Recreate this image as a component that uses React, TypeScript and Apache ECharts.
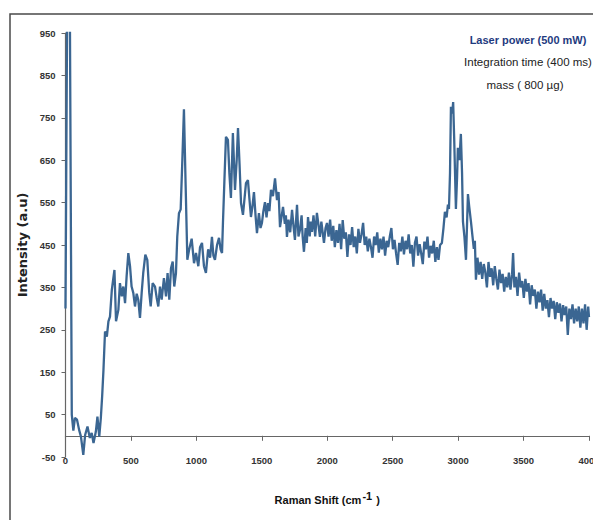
import { useEffect, useRef } from "react";
import * as echarts from "echarts";

// Raman spectrum, [shift (cm-1), intensity (a.u.)], split by region
const lowShiftRegion: [number, number][] = [
  [0, 300], [16, 1200], [32, 1100], [48, 50], [60, 12], [72, 42], [88, 38], [104, 14],
  [118, -2], [136, -45], [150, 2], [168, 22], [186, -5], [200, 7], [214, -17], [232, 10],
  [244, 45], [258, -2], [270, 42], [280, 93], [290, 155], [302, 246], [316, 234], [328, 270],
  [340, 281], [354, 344], [364, 368], [374, 391], [386, 270], [404, 297], [416, 360], [430, 329],
  [442, 352], [455, 313], [467, 376], [480, 431], [493, 400], [505, 352], [518, 337], [531, 305],
  [544, 335], [556, 321], [569, 278], [582, 337], [594, 384], [610, 427], [625, 415], [640, 337],
  [651, 305], [666, 360], [684, 352], [697, 325], [709, 305], [722, 352], [735, 321], [752, 372],
  [768, 329], [780, 384], [793, 321], [806, 395], [819, 411], [831, 352], [844, 384], [854, 470],
  [867, 525], [880, 534], [893, 652], [905, 770], [918, 590], [931, 415], [944, 438], [964, 465],
  [982, 407], [997, 431],
];

const midShiftRegion: [number, number][] = [
  [1015, 400], [1028, 445], [1043, 455], [1058, 400], [1073, 384], [1090, 440], [1105, 420],
  [1119, 469], [1130, 425], [1142, 415], [1158, 450], [1173, 467], [1185, 440], [1196, 431],
  [1203, 502], [1214, 600], [1226, 705], [1241, 698], [1252, 620], [1264, 561], [1279, 714],
  [1295, 580], [1308, 650], [1318, 726], [1330, 640], [1341, 549], [1356, 521], [1379, 596],
  [1394, 603], [1405, 560], [1417, 516], [1428, 540], [1440, 575], [1452, 520], [1463, 478],
  [1478, 525], [1490, 490], [1501, 502], [1512, 530], [1524, 551], [1536, 515], [1547, 549],
  [1558, 530], [1570, 580], [1585, 565], [1601, 607], [1616, 556], [1628, 575], [1639, 492],
  [1650, 515], [1662, 540], [1676, 500], [1684, 520], [1692, 469], [1704, 510], [1717, 480],
  [1731, 533], [1742, 495], [1753, 462], [1769, 545], [1780, 470], [1792, 486], [1804, 520],
  [1812, 470], [1822, 434], [1835, 490], [1844, 455], [1853, 516], [1866, 470], [1874, 505],
  [1883, 481], [1895, 520], [1908, 470], [1921, 526], [1932, 500], [1944, 469], [1955, 505],
  [1965, 480], [1975, 455], [1987, 490], [1998, 502],
];

const plateauRegion: [number, number][] = [
  [2010, 470], [2022, 510], [2034, 460], [2046, 495], [2058, 445], [2070, 485], [2082, 455],
  [2094, 500], [2106, 440], [2118, 509], [2130, 465], [2142, 480], [2154, 422], [2166, 475],
  [2178, 450], [2190, 492], [2202, 445], [2214, 470], [2226, 430], [2238, 488], [2250, 455],
  [2262, 475], [2274, 502], [2286, 450], [2298, 470], [2310, 435], [2322, 465], [2334, 445],
  [2346, 420], [2358, 470], [2370, 450], [2382, 480], [2394, 432], [2406, 465], [2418, 440],
  [2430, 470], [2442, 425], [2454, 460], [2466, 445], [2478, 470], [2490, 490], [2502, 440],
  [2514, 462], [2526, 430], [2538, 403], [2550, 455], [2562, 435], [2574, 470], [2586, 428],
  [2598, 460], [2610, 440], [2622, 475], [2634, 430], [2646, 450], [2658, 399], [2670, 455],
  [2682, 470], [2694, 425], [2706, 452], [2718, 430], [2730, 405], [2742, 458], [2754, 440],
  [2766, 470], [2778, 420], [2790, 448], [2802, 430], [2814, 460], [2826, 410], [2838, 445],
  [2850, 415], [2862, 450], [2876, 455],
];

const chRegion: [number, number][] = [
  [2888, 490], [2899, 528], [2912, 515], [2922, 545], [2930, 535], [2938, 620], [2945, 776],
  [2955, 760], [2962, 787], [2970, 700], [2983, 535], [2992, 610], [2998, 679], [3010, 650],
  [3021, 712], [3030, 620], [3037, 505], [3048, 470], [3060, 415], [3075, 570], [3085, 540],
  [3098, 505], [3110, 470], [3120, 441], [3128, 460], [3136, 368],
];

const tailRegion: [number, number][] = [
  [3148, 420], [3160, 380], [3172, 410], [3184, 370], [3196, 405], [3208, 385], [3220, 350],
  [3232, 410], [3244, 375], [3256, 395], [3268, 355], [3280, 400], [3292, 370], [3304, 345],
  [3316, 392], [3328, 360], [3340, 382], [3352, 340], [3364, 375], [3376, 350], [3388, 385],
  [3400, 345], [3412, 380], [3420, 431], [3430, 350], [3442, 375], [3454, 330], [3466, 385],
  [3478, 350], [3490, 365], [3502, 325], [3514, 370], [3526, 340], [3538, 360], [3550, 310],
  [3562, 355], [3574, 330], [3586, 345], [3598, 300], [3610, 340], [3622, 315], [3634, 345],
  [3646, 295], [3658, 335], [3670, 300], [3682, 320], [3694, 280], [3706, 325], [3718, 300],
  [3730, 318], [3742, 275], [3754, 315], [3766, 290], [3778, 312], [3790, 270], [3802, 308],
  [3814, 285], [3826, 305], [3838, 238], [3850, 300], [3862, 275], [3874, 310], [3886, 265],
  [3898, 300], [3910, 270], [3922, 305], [3934, 255], [3946, 300], [3958, 265], [3970, 310],
  [3982, 250], [3994, 305], [4000, 280],
];

const spectrum = [
  ...lowShiftRegion,
  ...midShiftRegion,
  ...plateauRegion,
  ...chRegion,
  ...tailRegion,
];

const conditionLines = [
  "Laser power (500 mW)",
  "Integration time (400 ms)",
  "mass ( 800 µg)",
];

const SANS = "'Liberation Sans', Arial, sans-serif";

export default function App() {
  const ref = useRef<HTMLDivElement>(null);

  useEffect(() => {
    if (!ref.current) return;
    const chart = echarts.init(ref.current, null, { renderer: "svg" });
    chart.setOption({
      animation: false,
      backgroundColor: "#ffffff",
      grid: {
        left: 65.5,
        right: 4,
        top: 33,
        bottom: 63,
        containLabel: false,
        outerBoundsMode: "none",
      },
      xAxis: {
        type: "value",
        min: 0,
        max: 4000,
        interval: 500,
        name: "{a|Raman Shift (cm}{s|-1}{a| )}",
        nameLocation: "middle",
        nameGap: 33,
        nameTextStyle: {
          rich: {
            a: { fontFamily: SANS, fontSize: 11, fontWeight: "bold", color: "#111" },
            s: {
              fontFamily: SANS,
              fontSize: 11,
              fontWeight: "bold",
              color: "#111",
              padding: [0, 1, 9, 1],
            },
          },
        },
        axisLine: { show: true, onZero: true, lineStyle: { color: "#666", width: 1.2 } },
        axisTick: { show: true, length: 5, lineStyle: { color: "#666" } },
        axisLabel: {
          margin: -2,
          fontFamily: SANS,
          fontSize: 9.5,
          fontWeight: "bold",
          color: "#333",
          formatter: (v: number) => String(v),
        },
        splitLine: { show: false },
      },
      yAxis: {
        type: "value",
        min: -50,
        max: 950,
        interval: 100,
        name: "Intensity (a.u)",
        nameLocation: "middle",
        nameRotate: 90,
        nameGap: 37,
        nameTextStyle: {
          fontFamily: "'DejaVu Sans', sans-serif",
          fontSize: 13,
          fontWeight: "bold",
          color: "#222",
        },
        axisLine: { show: true, onZero: false, lineStyle: { color: "#666", width: 1.2 } },
        axisTick: { show: true, length: 4, lineStyle: { color: "#666" } },
        axisLabel: {
          margin: 10,
          fontFamily: SANS,
          fontSize: 9.5,
          fontWeight: "bold",
          color: "#333",
          formatter: (v: number) => String(v),
        },
        splitLine: { show: false },
      },
      graphic: [
        {
          type: "rect",
          silent: true,
          shape: { x: 10, y: 14, width: 700, height: 600 },
          style: { fill: "none", stroke: "#4a4a4a", lineWidth: 1.5 },
        },
        {
          type: "text",
          x: 528,
          y: 40,
          style: {
            text: conditionLines[0],
            fontFamily: SANS,
            fontSize: 11,
            fontWeight: "bold",
            fill: "#1f3b80",
            textAlign: "center",
            textVerticalAlign: "middle",
          },
        },
        {
          type: "text",
          x: 528,
          y: 62,
          style: {
            text: conditionLines[1],
            fontFamily: SANS,
            fontSize: 11.5,
            fill: "#222",
            textAlign: "center",
            textVerticalAlign: "middle",
          },
        },
        {
          type: "text",
          x: 525,
          y: 85,
          style: {
            text: conditionLines[2],
            fontFamily: SANS,
            fontSize: 11.5,
            fill: "#222",
            textAlign: "center",
            textVerticalAlign: "middle",
          },
        },
      ],
      series: [
        {
          type: "line",
          data: spectrum,
          symbol: "none",
          showSymbol: false,
          clip: true,
          lineStyle: { color: "#3b6692", width: 2.3 },
        },
      ],
    });
    return () => chart.dispose();
  }, []);

  return (
    <div
      ref={ref}
      style={{ position: "fixed", left: 0, top: 0, width: 593, height: 520 }}
    />
  );
}
